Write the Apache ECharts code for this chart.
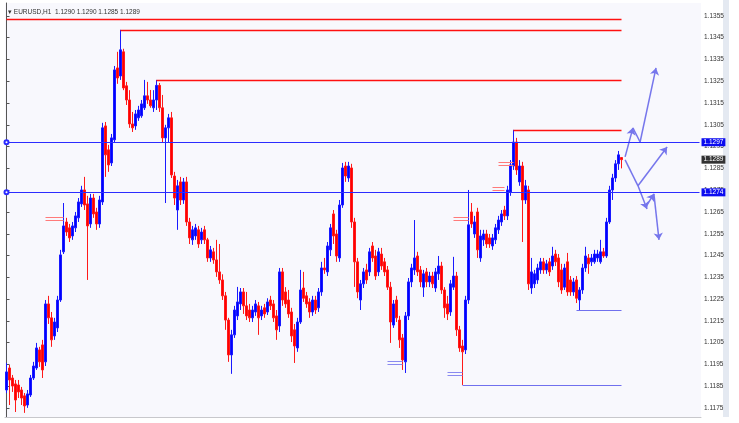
<!DOCTYPE html>
<html><head><meta charset="utf-8">
<script src="https://cdn.jsdelivr.net/npm/echarts@6/dist/echarts.min.js"></script>
<style>html,body{margin:0;padding:0;background:#fff}#c{width:739px;height:423px}</style>
</head><body><div id="c"></div><script>
const symbolName = 'EURUSD,H1';
const headerOHLC = [1.1290, 1.1290, 1.1285, 1.1289];
const slotCount = 232;
const priceTicks = [1.1175,1.1185,1.1195,1.1205,1.1215,1.1225,1.1235,1.1245,1.1255,1.1265,1.1275,1.1285,1.1295,1.1305,1.1315,1.1325,1.1335,1.1345,1.1355];
// [open, close, low, high]
const candles = [
[1.11833,1.11916,1.11819,1.11957],[1.11934,1.11879,1.11764,1.11948],[1.11888,1.11851,1.11824,1.11902],[1.11861,1.11787,1.11732,1.11879],
[1.11856,1.11824,1.11796,1.11879],[1.11833,1.11796,1.11764,1.11847],[1.11806,1.11760,1.11728,1.11819],[1.11764,1.11815,1.11751,1.11833],
[1.11810,1.11888,1.11801,1.11902],[1.11888,1.11943,1.11879,1.11962],[1.11934,1.12026,1.11925,1.12049],[1.12017,1.11962,1.11939,1.12031],
[1.12040,1.11925,1.11888,1.12063],[1.11962,1.12228,1.11943,1.12246],[1.12228,1.12164,1.12136,1.12265],[1.12164,1.12063,1.12031,1.12191],
[1.12081,1.12145,1.12063,1.12164],[1.12118,1.12246,1.12099,1.12265],[1.12246,1.12453,1.12237,1.12476],[1.12467,1.12586,1.12457,1.12691],
[1.12604,1.12558,1.12540,1.12623],[1.12577,1.12531,1.12512,1.12595],[1.12540,1.12586,1.12522,1.12604],[1.12577,1.12632,1.12558,1.12650],
[1.12623,1.12696,1.12604,1.12714],[1.12687,1.12751,1.12673,1.12770],[1.12751,1.12682,1.12659,1.12811],[1.12687,1.12586,1.12338,1.12724],
[1.12595,1.12714,1.12577,1.12733],[1.12714,1.12641,1.12623,1.12733],[1.12650,1.12595,1.12568,1.12669],[1.12595,1.12705,1.12577,1.12724],
[1.12696,1.13036,1.12682,1.13059],[1.13045,1.12912,1.12811,1.13063],[1.12935,1.12866,1.12834,1.12958],[1.12875,1.12990,1.12861,1.13008],
[1.12981,1.13302,1.12971,1.13320],[1.13311,1.13265,1.13238,1.13385],[1.13274,1.13394,1.13256,1.13486],[1.13385,1.13219,1.13209,1.13399],
[1.13229,1.13164,1.13141,1.13247],[1.13164,1.13054,1.13036,1.13209],[1.13054,1.13036,1.13017,1.13109],[1.13045,1.13100,1.13027,1.13118],
[1.13082,1.13118,1.13068,1.13137],[1.13091,1.13146,1.13082,1.13164],[1.13128,1.13183,1.13118,1.13256],[1.13183,1.13164,1.13146,1.13247],
[1.13164,1.13137,1.13128,1.13210],[1.13128,1.13164,1.13109,1.13209],[1.13164,1.13231,1.13118,1.13256],[1.13231,1.13128,1.13109,1.13242],
[1.13128,1.12990,1.12971,1.13187],[1.12990,1.13036,1.12691,1.13050],[1.13036,1.13082,1.12967,1.13100],[1.13082,1.12820,1.12806,1.13109],
[1.12815,1.12714,1.12682,1.12834],[1.12659,1.12770,1.12568,1.12797],[1.12788,1.12705,1.12682,1.12811],[1.12705,1.12788,1.12687,1.12806],
[1.12788,1.12604,1.12586,1.12811],[1.12604,1.12531,1.12503,1.12623],[1.12522,1.12568,1.12499,1.12586],[1.12540,1.12577,1.12522,1.12595],
[1.12568,1.12503,1.12485,1.12586],[1.12522,1.12558,1.12503,1.12577],[1.12568,1.12522,1.12503,1.12586],[1.12522,1.12439,1.12421,1.12531],
[1.12439,1.12476,1.12421,1.12494],[1.12467,1.12430,1.12412,1.12485],[1.12430,1.12375,1.12352,1.12522],[1.12375,1.12338,1.12320,1.12503],
[1.12338,1.12265,1.12246,1.12364],[1.12265,1.12154,1.12109,1.12283],[1.12154,1.11994,1.11962,1.12164],[1.11994,1.12086,1.11907,1.12109],
[1.12086,1.12200,1.12072,1.12219],[1.12173,1.12237,1.12154,1.12306],[1.12228,1.12283,1.12200,1.12301],[1.12283,1.12219,1.12182,1.12301],
[1.12219,1.12173,1.12154,1.12283],[1.12200,1.12164,1.12145,1.12228],[1.12164,1.12200,1.12145,1.12219],[1.12191,1.12228,1.12173,1.12246],
[1.12219,1.12164,1.12086,1.12237],[1.12173,1.12200,1.12154,1.12219],[1.12210,1.12182,1.12164,1.12228],[1.12191,1.12237,1.12177,1.12254],
[1.12246,1.12219,1.12200,1.12265],[1.12228,1.12164,1.12145,1.12246],[1.12173,1.12109,1.12063,1.12200],[1.12127,1.12375,1.12099,1.12393],
[1.12375,1.12246,1.12219,1.12393],[1.12283,1.12228,1.12210,1.12305],[1.12246,1.12182,1.12164,1.12292],[1.12191,1.12081,1.12053,1.12210],
[1.12109,1.12035,1.11957,1.12136],[1.12026,1.12145,1.12008,1.12164],[1.12145,1.12292,1.12136,1.12384],[1.12301,1.12254,1.12237,1.12375],
[1.12265,1.12228,1.12210,1.12283],[1.12237,1.12191,1.12164,1.12254],[1.12191,1.12246,1.12173,1.12265],[1.12246,1.12200,1.12182,1.12265],
[1.12210,1.12283,1.12191,1.12301],[1.12283,1.12393,1.12265,1.12421],[1.12393,1.12384,1.12366,1.12439],[1.12375,1.12494,1.12356,1.12512],
[1.12476,1.12577,1.12448,1.12595],[1.12641,1.12540,1.12503,1.12659],[1.12549,1.12448,1.12421,1.12568],[1.12439,1.12682,1.12421,1.12705],
[1.12682,1.12852,1.12669,1.12875],[1.12861,1.12815,1.12788,1.12880],[1.12806,1.12861,1.12788,1.12880],[1.12852,1.12604,1.12577,1.12871],
[1.12604,1.12421,1.12306,1.12623],[1.12421,1.12283,1.12254,1.12439],[1.12246,1.12320,1.12200,1.12338],[1.12320,1.12375,1.12301,1.12393],
[1.12384,1.12338,1.12320,1.12412],[1.12375,1.12467,1.12356,1.12485],[1.12494,1.12439,1.12421,1.12512],[1.12448,1.12356,1.12338,1.12476],
[1.12375,1.12467,1.12356,1.12485],[1.12457,1.12402,1.12384,1.12485],[1.12421,1.12375,1.12356,1.12439],[1.12384,1.12305,1.12292,1.12402],
[1.12305,1.12145,1.12049,1.12329],[1.12131,1.12228,1.12118,1.12246],[1.12246,1.12164,1.12145,1.12265],[1.12154,1.12063,1.12026,1.12173],
[1.12072,1.11971,1.11925,1.12090],[1.11962,1.12173,1.11911,1.12191],[1.12173,1.12329,1.12154,1.12347],[1.12329,1.12393,1.12305,1.12412],
[1.12384,1.12439,1.12361,1.12613],[1.12448,1.12375,1.12356,1.12467],[1.12384,1.12329,1.12305,1.12402],[1.12305,1.12366,1.12260,1.12384],
[1.12375,1.12329,1.12305,1.12393],[1.12329,1.12356,1.12305,1.12375],[1.12356,1.12320,1.12301,1.12375],[1.12301,1.12375,1.12283,1.12393],
[1.12366,1.12402,1.12338,1.12448],[1.12402,1.12292,1.12274,1.12421],[1.12292,1.12210,1.12164,1.12305],[1.12228,1.12182,1.12154,1.12265],
[1.12191,1.12320,1.12173,1.12338],[1.12305,1.12356,1.12292,1.12444],[1.12356,1.12109,1.12081,1.12375],[1.12109,1.12026,1.12008,1.12127],
[1.12035,1.12008,1.11856,1.12063],[1.12017,1.12246,1.11998,1.12265],[1.12246,1.12591,1.12228,1.12751],[1.12650,1.12595,1.12577,1.12691],
[1.12549,1.12604,1.12531,1.12632],[1.12650,1.12476,1.12439,1.12669],[1.12439,1.12540,1.12421,1.12568],[1.12522,1.12549,1.12494,1.12568],
[1.12549,1.12503,1.12485,1.12568],[1.12531,1.12503,1.12485,1.12549],[1.12494,1.12531,1.12476,1.12549],[1.12522,1.12577,1.12503,1.12595],
[1.12568,1.12613,1.12549,1.12632],[1.12604,1.12641,1.12586,1.12659],[1.12659,1.12632,1.12613,1.12678],[1.12632,1.12751,1.12613,1.12770],
[1.12742,1.12866,1.12724,1.12888],[1.12861,1.12971,1.12843,1.13027],[1.12971,1.12843,1.12820,1.12990],[1.12788,1.12861,1.12770,1.12888],
[1.12861,1.12705,1.12512,1.12880],[1.12705,1.12770,1.12687,1.12797],[1.12751,1.12320,1.12292,1.12770],[1.12301,1.12375,1.12274,1.12439],
[1.12320,1.12366,1.12301,1.12384],[1.12338,1.12393,1.12320,1.12412],[1.12384,1.12421,1.12366,1.12439],[1.12421,1.12384,1.12366,1.12439],
[1.12384,1.12412,1.12366,1.12430],[1.12421,1.12375,1.12356,1.12439],[1.12402,1.12448,1.12384,1.12490],[1.12457,1.12421,1.12402,1.12476],
[1.12439,1.12329,1.12305,1.12457],[1.12384,1.12292,1.12274,1.12412],[1.12305,1.12393,1.12292,1.12412],[1.12421,1.12283,1.12265,1.12462],
[1.12338,1.12283,1.12265,1.12356],[1.12283,1.12329,1.12265,1.12347],[1.12338,1.12254,1.12232,1.12356],[1.12246,1.12292,1.12200,1.12305],
[1.12292,1.12393,1.12274,1.12412],[1.12393,1.12448,1.12375,1.12490],[1.12439,1.12412,1.12366,1.12457],[1.12421,1.12439,1.12402,1.12457],
[1.12421,1.12457,1.12412,1.12476],[1.12439,1.12457,1.12421,1.12476],[1.12421,1.12467,1.12412,1.12522],[1.12467,1.12448,1.12439,1.12485],
[1.12448,1.12604,1.12439,1.12623],[1.12604,1.12751,1.12595,1.12770],[1.12751,1.12806,1.12705,1.12825],[1.12806,1.12871,1.12788,1.12888],
[1.12871,1.12912,1.12843,1.12930],[1.12900,1.12890,1.12850,1.12900]
];
const levelLines = [1.1297, 1.1274];
const currentPrice = 1.1289;
// [fromBar, toBar, price]
const redLevels = [[0,205,1.13536],[38,205,1.13486],[50,205,1.13256],[169,205,1.13027]];
const blueLevels = [[190,205,1.12200],[152,205,1.11856]];
const redMarks = [[13,19,1.12625],[13,19,1.12611],[149,154,1.12625],[149,154,1.12611],[164,169,1.12880],[164,169,1.12866],[162,166,1.12765],[162,166,1.12751]];
const blueMarks = [[127,132,1.11966],[127,132,1.11952],[147,152,1.11916],[147,152,1.11902]];
// projected path legs [fromBar, fromPrice, toBar, toPrice]
const arrowLegs = [[206.2,1.12903,208.8,1.13036],[211.2,1.12971,216.5,1.13311],[210.5,1.12770,220.2,1.12948],[210.5,1.12770,213.5,1.12664],[213.5,1.12682,215.8,1.12733],[215.8,1.12733,217.5,1.12522]];
const plainLegs = [[208.8,1.13036,211.2,1.12971],[206.2,1.12889,210.5,1.12770]];

const categories = Array.from({length: slotCount}, (_, i) => String(i));
const FONT = 'Liberation Sans, Arial, sans-serif';
const seg = (s, color, w) => [{coord:[s[0], s[2]], lineStyle:{color, width:w, type:'solid'}}, {coord:[s[1], s[2]]}];
const tag = (v, bg) => ({show:true, position:'end', distance:2, formatter: v.toFixed(4), backgroundColor:bg, color:'#fff', fontSize:6.5, fontFamily:FONT, padding:[1,2,0,2]});

const mlData = [];
levelLines.forEach(v => mlData.push([
  {coord:[0, v], symbol:'emptyCircle', symbolSize:4, lineStyle:{color:'#2c2cff', width:1, type:'solid'}, label:tag(v, '#0c0cf0')},
  {coord:[slotCount-1, v], symbol:'none'}
]));
mlData.push([
  {coord:[0, currentPrice], symbol:'none', lineStyle:{color:'rgba(0,0,0,0)', width:1, type:'solid'}, label:tag(currentPrice, '#333333')},
  {coord:[slotCount-1, currentPrice], symbol:'none'}
]);
redLevels.forEach(s => mlData.push(seg(s, '#ff1010', 1.3)));
blueLevels.forEach(s => mlData.push(seg(s, '#7070ee', 1)));
redMarks.forEach(s => mlData.push(seg(s, '#ff7a7a', 1)));
blueMarks.forEach(s => mlData.push(seg(s, '#8a8af0', 1)));

const chart = echarts.init(document.getElementById('c'), null, {renderer:'canvas'});
chart.setOption({
  animation:false,
  backgroundColor:'#ffffff',
  title:{text:'\u25BE ' + symbolName + '  ' + headerOHLC.map(v => v.toFixed(4)).join(' '), left:3, top:4,
    textStyle:{fontSize:6.5, fontWeight:'normal', color:'#333', fontFamily:FONT}},
  graphic:[{type:'rect', shape:{x:723, y:0, width:6, height:417}, style:{fill:'#e4e9f1'}, silent:true}],
  grid:{left:5, right:38, top:3, bottom:6, show:true, backgroundColor:'#f8f8fd', borderWidth:0},
  xAxis:[
    {type:'category', data:categories, boundaryGap:true, axisLine:{show:true, lineStyle:{color:'#c8c8cc'}}, axisTick:{show:false}, axisLabel:{show:false}, splitLine:{show:false}},
    {type:'value', min:-0.5, max:slotCount-0.5, show:false}
  ],
  yAxis:{type:'value', position:'right', min:1.11709, max:1.13609, scale:true,
    splitLine:{show:false},
    axisLine:{show:true, lineStyle:{color:'#555', width:1}},
    axisTick:{show:true, length:3, customValues:priceTicks, lineStyle:{color:'#555'}},
    axisLabel:{show:true, customValues:priceTicks, formatter:v => v.toFixed(4), fontSize:6.5, color:'#333', margin:3, fontFamily:FONT}
  },
  series:[
    {type:'candlestick', name:symbolName, data:candles, barWidth:1.8,
      itemStyle:{color:'#0000ff', color0:'#ff0000', borderColor:'#1a1aff', borderColor0:'#ff1a1a', borderWidth:1},
      markLine:{silent:true, animation:false, symbol:'none', label:{show:false}, data:mlData}
    },
    {type:'lines', coordinateSystem:'cartesian2d', xAxisIndex:1, yAxisIndex:0, silent:true,
      symbol:['none','arrow'], symbolSize:7,
      lineStyle:{color:'#7676ec', width:1.5, opacity:1},
      data: arrowLegs.map(a => ({coords:[[a[0],a[1]],[a[2],a[3]]]}))
    },
    {type:'lines', coordinateSystem:'cartesian2d', xAxisIndex:1, yAxisIndex:0, silent:true,
      symbol:'none',
      lineStyle:{color:'#7676ec', width:1.5, opacity:1},
      data: plainLegs.map(a => ({coords:[[a[0],a[1]],[a[2],a[3]]]}))
    }
  ]
});
</script></body></html>
